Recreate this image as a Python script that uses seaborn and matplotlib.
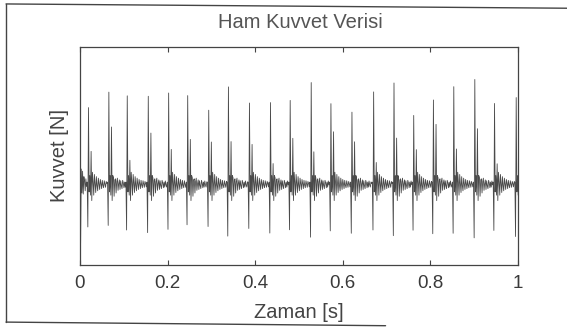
import numpy as np
import pandas as pd
import seaborn as sns
import matplotlib.pyplot as plt
from matplotlib.lines import Line2D

# Sampling step of the force record [s]
DT = 0.0015

# Impact events: onset time [s], peak, trough and rebound peak [N]
spike_t = [0.018, 0.064, 0.107, 0.155, 0.201, 0.244, 0.292, 0.338, 0.386, 0.434, 0.479,
           0.527, 0.571, 0.619, 0.669, 0.715, 0.760, 0.806, 0.852, 0.900, 0.945, 0.995]
spike_top = [3.52, 4.23, 4.06, 4.04, 4.19, 4.07, 3.40, 4.47, 3.73, 3.75, 3.85,
             4.67, 3.70, 3.31, 4.24, 4.65, 3.16, 3.87, 4.48, 4.81, 3.71, 3.98]
spike_bottom = [-1.96, -1.89, -2.10, -2.22, -2.07, -1.86, -1.94, -2.38, -2.03, -2.24, -2.09,
                -2.43, -2.14, -2.25, -2.10, -2.36, -2.11, -2.27, -2.25, -2.46, -2.12, -2.40]
spike_second = [1.51, 2.63, 1.10, 2.35, 1.60, 2.06, 1.94, 1.96, 1.83, 0.95, 2.11,
                1.49, 2.41, 1.95, 1.00, 2.12, 1.59, 2.75, 1.62, 2.55, 0.94, 3.60]

# Tail of the preceding impact at the start of the record
start_trace = [1.2, -2.7, 0.7, -0.4, 0.6, -0.45, 0.35, 0.15, -0.3, 0.25, -0.1]

# Ringing of the load cell after each impact (two alternating patterns)
ring_a = [0.55, 0.1, -0.5, 0.45, 0.05, -0.38, 0.35, -0.05, -0.3, 0.28, 0.0, -0.24, 0.22, 0.03,
          -0.2, 0.18, -0.04, -0.16, 0.16, 0.0, -0.14, 0.13, 0.03, -0.12, 0.12, -0.03, -0.1]
ring_b = [0.4, 0.3, -0.55, 0.2, 0.25, -0.4, 0.12, 0.28, -0.28, 0.03, 0.2, -0.24, 0.16,
          -0.06, -0.2, 0.18, 0.06, -0.16, 0.1, -0.13, 0.15, -0.03, -0.13, 0.11, 0.03, -0.1, 0.1]

n = int(round(1.0 / DT)) + 1
time = np.arange(n) * DT
force = np.zeros(n)
force[:len(start_trace)] = start_trace

onsets = [int(round(s / DT)) for s in spike_t]
for i, k in enumerate(onsets):
    ring = ring_a if i % 2 == 0 else ring_b
    beat = [0.1, spike_bottom[i], spike_top[i], -0.35, 0.4, -0.5, spike_second[i], -0.75] + ring
    stop = onsets[i + 1] - 1 if i + 1 < len(onsets) else n
    for j, val in enumerate(beat):
        idx = k - 1 + j
        if idx >= stop or idx >= n:
            break
        force[idx] = val

df = pd.DataFrame({"Zaman": time, "Kuvvet": force})

sns.set_style("white")
plt.rcParams["font.family"] = ["Liberation Sans", "DejaVu Sans"]

fig = plt.figure(figsize=(5.67, 3.29), dpi=100)
ax = fig.add_axes([0.141, 0.195, 0.7725, 0.662])

sns.lineplot(data=df, x="Zaman", y="Kuvvet", ax=ax, estimator=None, sort=False,
             color="#4a4a4a", linewidth=0.6)

ax.set_xlim(0, 1)
ax.set_ylim(-3.7, 6.3)
ax.set_xticks([0, 0.2, 0.4, 0.6, 0.8, 1.0])
ax.set_xticklabels(["0", "0.2", "0.4", "0.6", "0.8", "1"])
ax.set_yticks([])
ax.tick_params(axis="x", direction="in", top=True, bottom=True, length=3.5,
               width=0.8, color="#444444", labelsize=13.5, labelcolor="#3a3a3a", pad=7)
for sp in ax.spines.values():
    sp.set_visible(True)
    sp.set_color("#444444")
    sp.set_linewidth(0.9)

ax.set_xlabel("Zaman [s]", fontsize=14.5, color="#444444")
ax.xaxis.set_label_coords(0.5, -0.175)
ax.set_ylabel("Kuvvet [N]", fontsize=14.5, color="#444444")
ax.yaxis.set_label_coords(-0.025, 0.5)

fig.text(300 / 567, 1 - 22 / 329, "Ham Kuvvet Verisi", ha="center", va="center",
         fontsize=14.5, color="#555555")

# Outer border around the figure
border = dict(color="#444444", linewidth=1.0, transform=fig.transFigure)
fig.add_artist(Line2D([0.0106, 0.0106], [0.021, 0.988], **border))
fig.add_artist(Line2D([0.0106, 1.0], [0.988, 0.975], **border))
fig.add_artist(Line2D([0.0106, 0.68], [0.021, 0.010], **border))

fig.savefig("out.png", dpi=100, facecolor="white")
